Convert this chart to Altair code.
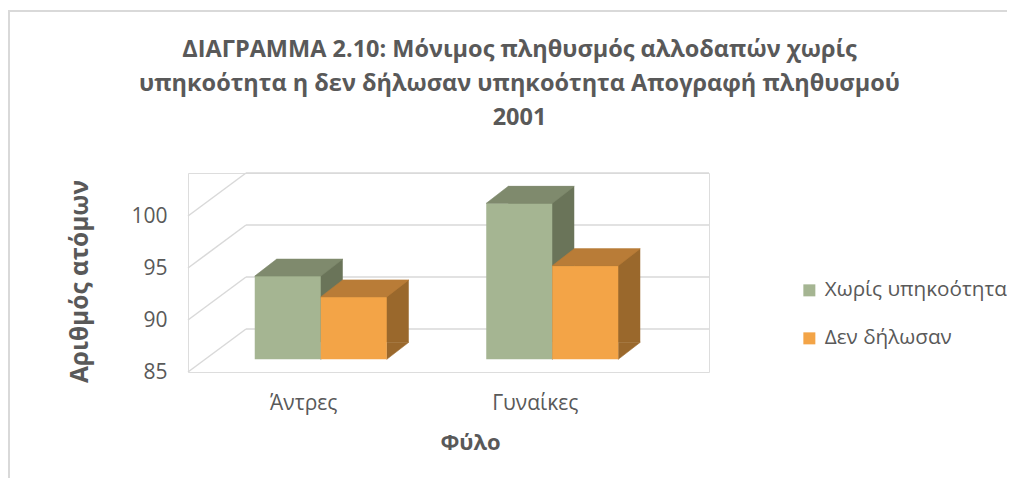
import altair as alt
import pandas as pd

# ---------------- data ----------------
categories = ["Άντρες", "Γυναίκες"]
series = ["Χωρίς υπηκοότητα", "Δεν δήλωσαν"]
values_no_citizenship = [93, 100]
values_not_declared = [91, 94]
y_ticks = [85, 90, 95, 100]

rows = []
for i, c in enumerate(categories):
    rows.append({"category": c, "series": series[0], "value": values_no_citizenship[i]})
    rows.append({"category": c, "series": series[1], "value": values_not_declared[i]})
df = pd.DataFrame(rows)
grid_df = pd.DataFrame({"v": y_ticks})
frame_df = pd.DataFrame({"k": [0]})

# ---------------- style ----------------
FRONT = ["#A5B592", "#F3A447"]
TOP = ["#7F8A6D", "#B97C37"]
SIDE = ["#6A7459", "#9A682C"]
TEXT = "#595959"
GRID = "#D9D9D9"
FONT = "Open Sans"

W, H = 521, 199            # plot area
FRONT_W = 463              # width of the front plane
WALL_DX, WALL_DY = 58, 43  # depth of the back wall
BAR_DX, BAR_DY = 17, 12.7  # offset of the bars' front plane
BOX_DX, BOX_DY = 22, 17    # depth of each bar
BAR_W = 66
SUB_SHIFT = [-BAR_W / 2, BAR_W / 2]   # centre of each series' bar inside its category

TOP_PATH = "M-33,0 L33,0 L55,-17 L-11,-17 Z"
TRI_PATH = "M33,0 L33,-17 L55,-17 Z"

y_scale = alt.Scale(domain=[85, 100], range=[H, H - 156], nice=False, zero=False)
x_scale = alt.Scale(domain=categories, range=[0, FRONT_W], paddingInner=0, paddingOuter=0)

y_axis = alt.Axis(values=y_ticks, domain=False, ticks=False, grid=False,
                  labelPadding=21, labelFontSize=21, labelColor=TEXT, labelFont=FONT,
                  title="Αριθμός ατόμων", titleFontSize=24.5, titleFontWeight="bold",
                  titleColor=TEXT, titleFont=FONT, titleX=-108, titleY=108,
                  titleAngle=-90, titleAlign="center", titleBaseline="middle")
x_axis = alt.Axis(domain=False, ticks=False, grid=False, labelAngle=0,
                  labelPadding=20, labelFontSize=21, labelColor=TEXT, labelFont=FONT,
                  title="Φύλο", titleFontSize=22, titleFontWeight="bold",
                  titleColor=TEXT, titleFont=FONT, titleX=282, titleY=70,
                  titleAlign="center", titleBaseline="middle")

X = alt.X("category:N", sort=categories, scale=x_scale, axis=x_axis)
Y = alt.Y("value:Q", scale=y_scale, axis=y_axis)
YG = alt.Y("v:Q", scale=y_scale, axis=y_axis)
Y85 = alt.Y(datum=85, scale=y_scale, axis=y_axis)

legend = alt.Legend(title=None, orient="none", legendX=611, legendY=107,
                    symbolType="square", symbolSize=144, symbolStrokeWidth=0,
                    labelFontSize=20.7, labelColor=TEXT, labelFont=FONT, labelLimit=400,
                    rowPadding=26, labelOffset=5)
COLOR = alt.Color("series:N", sort=series, scale=alt.Scale(domain=series, range=FRONT),
                  legend=legend)

# ---------------- walls ----------------
back_grid = alt.Chart(grid_df).mark_rule(color=GRID, strokeWidth=1.5, yOffset=-WALL_DY).encode(
    y=YG, x=alt.value(WALL_DX), x2=alt.value(W))
side_grid = alt.Chart(grid_df).mark_rule(color=GRID, strokeWidth=1.5, y2Offset=-WALL_DY).encode(
    y=YG, y2=alt.Y2("v"), x=alt.value(0), x2=alt.value(WALL_DX))

frame_left = alt.Chart(frame_df).mark_rule(color=GRID, strokeWidth=2).encode(
    x=alt.value(-179), y=alt.value(-162), y2=alt.value(H + 120))
frame_top = alt.Chart(frame_df).mark_rule(color=GRID, strokeWidth=2).encode(
    y=alt.value(-162), x=alt.value(-180), x2=alt.value(W + 310))

# ---------------- 3-D bars, one set of faces per series ----------------
backs, tris, fronts, tops = [], [], [], []
for i, s in enumerate(series):
    base = alt.Chart(df).transform_filter(alt.datum.series == s)
    fx = SUB_SHIFT[i] + BAR_DX
    backs.append(base.mark_bar(
        width=BAR_W, color=SIDE[i], strokeWidth=0,
        xOffset=fx + BOX_DX, yOffset=-(BAR_DY + BOX_DY), y2Offset=-(BAR_DY + BOX_DY)
    ).encode(x=X, y=Y, y2=alt.datum(85)))
    tris.append(base.mark_point(
        shape=TRI_PATH, size=4, filled=True, opacity=1, color=SIDE[i],
        stroke=SIDE[i], strokeWidth=0.6, xOffset=fx, yOffset=-BAR_DY
    ).encode(x=X, y=Y85))
    fronts.append(base.mark_bar(
        width=BAR_W, strokeWidth=0, xOffset=fx, yOffset=-BAR_DY, y2Offset=-BAR_DY
    ).encode(x=X, y=Y, y2=alt.datum(85), color=COLOR))
    tops.append(base.mark_point(
        shape=TOP_PATH, size=4, filled=True, opacity=1, color=TOP[i],
        stroke=TOP[i], strokeWidth=0.6, xOffset=fx, yOffset=-BAR_DY
    ).encode(x=X, y=Y))

chart = alt.layer(
    frame_left, frame_top, back_grid, side_grid, *backs, *tris, *fronts, *tops
).properties(
    width=W, height=H,
    autosize=alt.AutoSizeParams(type="none"),
    padding={"left": 180, "top": 165, "right": 298, "bottom": 106},
    title=alt.TitleParams(
        text=["ΔΙΑΓΡΑΜΜΑ 2.10: Μόνιμος πληθυσμός αλλοδαπών χωρίς",
              "υπηκοότητα η δεν δήλωσαν υπηκοότητα Απογραφή πληθυσμού",
              "2001"],
        fontSize=23.5, fontWeight="bold", color=TEXT, font=FONT,
        anchor="middle", frame="group", dx=71, lineHeight=34, offset=-119),
).configure_view(stroke=None).configure(background="white")

chart.save("out.html", embed_options={"renderer": "svg", "actions": False})
